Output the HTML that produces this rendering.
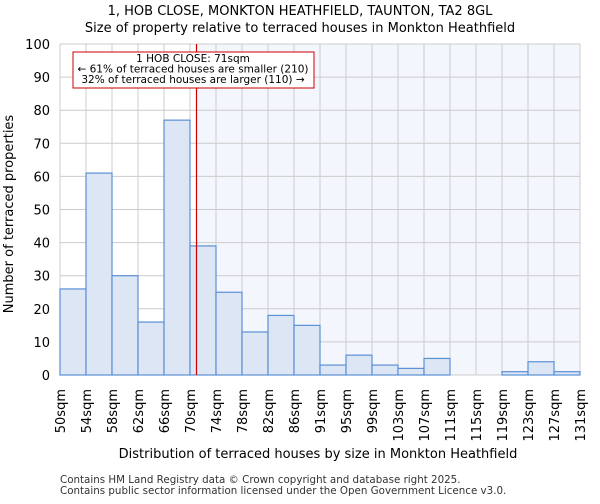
<!DOCTYPE html><html><head><meta charset="utf-8"><style>body{margin:0;background:#fff;font-family:"DejaVu Sans","Liberation Sans",sans-serif}</style></head><body>
<svg id="c" width="600" height="500" xmlns="http://www.w3.org/2000/svg" font-family="DejaVu Sans, Liberation Sans, sans-serif">
<text x="300" y="15" text-anchor="middle" font-size="13">1, HOB CLOSE, MONKTON HEATHFIELD, TAUNTON, TA2 8GL</text>
<text x="300" y="32" text-anchor="middle" font-size="13">Size of property relative to terraced houses in Monkton Heathfield</text>
<g id="plot"></g>
<text x="318" y="458" text-anchor="middle" font-size="13">Distribution of terraced houses by size in Monkton Heathfield</text>
<text transform="translate(13,214) rotate(-90)" text-anchor="middle" font-size="13">Number of terraced properties</text>
<text x="60" y="483" font-size="10.3" fill="#333">Contains HM Land Registry data © Crown copyright and database right 2025.</text>
<text x="60" y="494" font-size="10.3" fill="#333">Contains public sector information licensed under the Open Government Licence v3.0.</text>
</svg>
<script>
const binLabels=["50sqm","54sqm","58sqm","62sqm","66sqm","70sqm","74sqm","78sqm","82sqm","86sqm","91sqm","95sqm","99sqm","103sqm","107sqm","111sqm","115sqm","119sqm","123sqm","127sqm","131sqm"];
const counts=[26,61,30,16,77,39,25,13,18,15,3,6,3,2,5,0,0,1,4,1];
const yTicks=[0,10,20,30,40,50,60,70,80,90,100];
const markerValue=71;
const NS="http://www.w3.org/2000/svg";
const L=60,R=580,T=44,B=375,n=counts.length,bw=(R-L)/n;
const x=i=>L+i*bw, y=v=>B-(B-T)*v/100;
const xs=v=>{const lo=parseFloat(binLabels[5]);return x(5)+(v-lo)/(parseFloat(binLabels[6])-lo)*bw;};
const g=document.getElementById('plot');
function mk(t,a){const e=document.createElementNS(NS,t);for(const k in a)e.setAttribute(k,a[k]);g.appendChild(e);return e;}
let e;
const mx=xs(markerValue);
e=mk('rect',{x:mx,y:T,width:R-mx,height:B-T,fill:'#f3f6fd'});


for(let i=0;i<=n;i++){e=mk('line',{x1:x(i),x2:x(i),y1:T,y2:B,stroke:'#ccc'});

}
yTicks.forEach(v=>{e=mk('line',{x1:L,x2:R,y1:y(v),y2:y(v),stroke:'#ccc'});


e=mk('text',{x:L-10,y:y(v)+5,'text-anchor':'end','font-size':13});e.textContent=v;

});
counts.forEach((v,i)=>{e=mk('rect',{x:x(i),y:y(v),width:bw,height:B-y(v),fill:'#dce6f4',stroke:'#5b8fd6','stroke-width':1.2});

});
binLabels.forEach((s,i)=>{e=mk('text',{transform:`translate(${x(i)+5},389) rotate(-90)`,'text-anchor':'end','font-size':13});e.textContent=s;

});
e=mk('line',{x1:mx,x2:mx,y1:T,y2:B,stroke:'#c00','stroke-width':1.2});


e=mk('rect',{x:73,y:52,width:241,height:36,fill:'#fff',stroke:'#c00'});


["1 HOB CLOSE: 71sqm","← 61% of terraced houses are smaller (210)","32% of terraced houses are larger (110) →"].forEach((s,i)=>{e=mk('text',{x:193,y:62+i*10.5,'text-anchor':'middle','font-size':10.5});e.textContent=s;

});
</script></body></html>
